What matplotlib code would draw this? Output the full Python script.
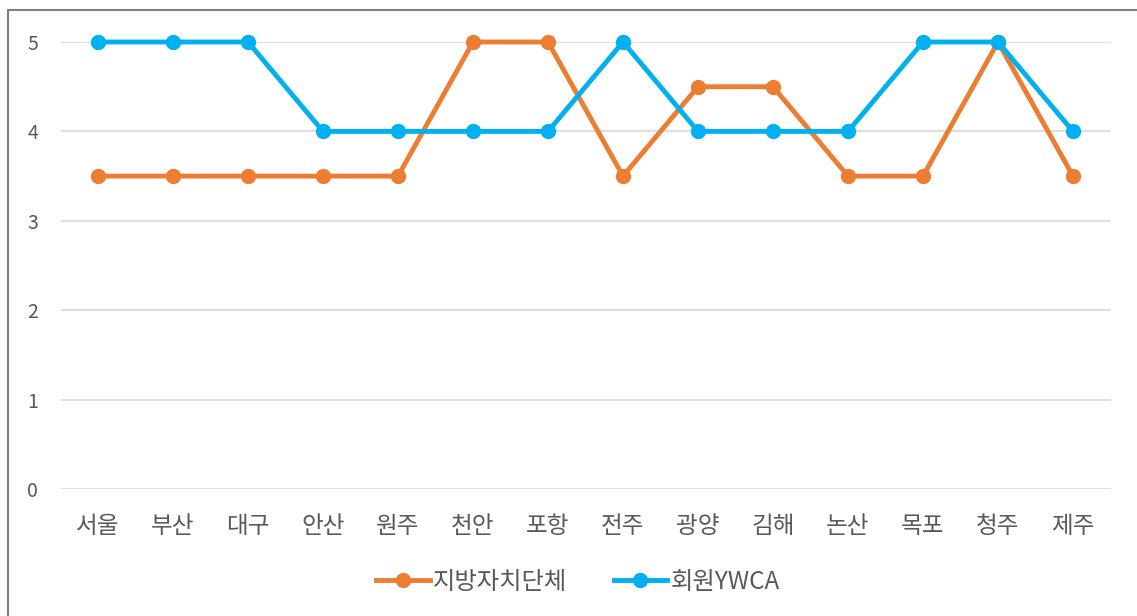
import matplotlib
matplotlib.use("Agg")
import matplotlib.pyplot as plt
from matplotlib.patches import Rectangle

plt.rcParams['font.family'] = ['Noto Sans CJK KR', 'DejaVu Sans']

categories = ["서울", "부산", "대구", "안산", "원주", "천안", "포항", "전주", "광양", "김해", "논산", "목포", "청주", "제주"]
local_gov = [3.5, 3.5, 3.5, 3.5, 3.5, 5, 5, 3.5, 4.5, 4.5, 3.5, 3.5, 5, 3.5]
ywca = [5, 5, 5, 4, 4, 4, 4, 5, 4, 4, 4, 5, 5, 4]
series_names = ["지방자치단체", "회원YWCA"]
yticks = [0, 1, 2, 3, 4, 5]

W, H = 1137, 616
fig = plt.figure(figsize=(W / 100, H / 100), dpi=100)
ax = fig.add_axes([60.5 / W, 1 - 489 / H, (1110.5 - 60.5) / W, (489 - 42) / H])

# outer chart border (partially cropped)
fig.patches.append(Rectangle((8 / W, -0.1), 1.2, 1 - 10 / H + 0.1, transform=fig.transFigure,
                             fill=False, edgecolor='#7f7f7f', linewidth=1.5))

x = list(range(len(categories)))
ax.plot(x, local_gov, color='#ED7D31', linewidth=3.5, marker='o', markersize=10,
        label=series_names[0], clip_on=False, zorder=3)
ax.plot(x, ywca, color='#00B0F0', linewidth=3.5, marker='o', markersize=10,
        label=series_names[1], clip_on=False, zorder=4)

ax.set_xlim(-0.5, len(categories) - 0.5)
ax.set_ylim(0, 5)
ax.set_yticks(yticks)
ax.set_yticklabels([str(v) for v in yticks])
ax.set_xticks(x)
ax.set_xticklabels(categories)
ax.grid(axis='y', color='#d9d9d9', linewidth=1.2)
ax.set_axisbelow(True)
for s in ax.spines.values():
    s.set_visible(False)
ax.tick_params(axis='both', length=0, colors='#595959')
ax.tick_params(axis='y', pad=16, labelsize=14)
ax.tick_params(axis='x', pad=19, labelsize=17)

leg = fig.legend(loc='center', bbox_to_anchor=(578 / W, 1 - 582 / H), ncol=2, frameon=False,
                 fontsize=17.5, handlelength=2.2, columnspacing=1.9, handletextpad=0.15,
                 labelcolor='#595959')

fig.savefig("out.png", dpi=100)
